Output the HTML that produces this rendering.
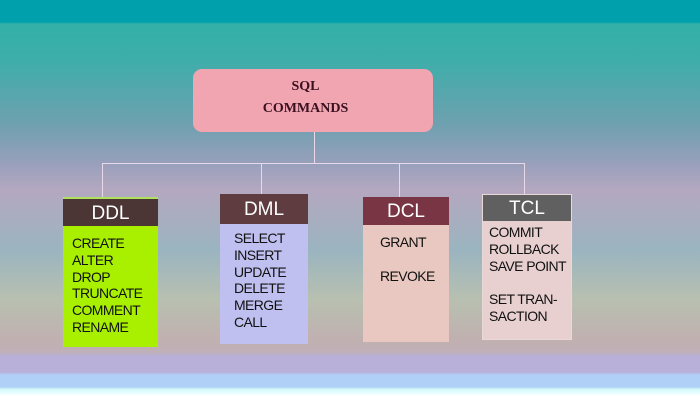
<!DOCTYPE html>
<html><head><style>
body{margin:0;width:700px;height:400px;overflow:hidden;position:relative;font-family:"Liberation Sans",Arial,sans-serif;
background:linear-gradient(to bottom,#01a0ad 0,#01a0ad 22px,#33b0a8 24px,#3eaeaa 60px,#6fa0b0 125px,#9aa0bc 165px,#b4a8c0 190px,#a8aec0 220px,#9ab4c0 250px,#b8c0b0 300px,#c0b0b0 340px,#c0b0b8 352px,#b8b0d8 356px,#b8b0d8 372px,#b0d0f8 375px,#b0d0f8 387px,#d0f8f8 389px,#e8fcfc 393px,#fff 396px);}
.a{position:absolute}
.root{left:193px;top:69px;width:240px;height:63px;background:#f0a5b0;border-radius:9px;font-family:"Liberation Serif",serif;color:#3a1020;font-size:14px;font-weight:bold;text-align:center}
.ln{position:absolute;background:#e8d8e8}
.box{position:absolute}
.hd{color:#fff;font-size:19px;text-align:center}
.bd{font-size:14px;line-height:16.8px;color:#111;letter-spacing:-0.6px}
</style></head><body>
<div class="a root"><div style="position:absolute;left:0;width:225px;top:10px">SQL</div><div style="position:absolute;left:0;width:225px;top:32px">COMMANDS</div></div>
<div class="ln" style="left:314px;top:132px;width:1px;height:31px"></div>
<div class="ln" style="left:102px;top:163px;width:422px;height:1px"></div>
<div class="ln" style="left:102px;top:163px;width:1px;height:36px"></div>
<div class="ln" style="left:261px;top:163px;width:1px;height:31px"></div>
<div class="ln" style="left:399px;top:163px;width:1px;height:35px"></div>
<div class="ln" style="left:524px;top:163px;width:1px;height:32px"></div>

<div class="box" style="left:63px;top:197px;width:95px;height:150px;background:#a8f000;border-top:2px solid #b0e060;box-sizing:border-box">
<div class="hd" style="background:#4b3535;height:27px;line-height:29px">DDL</div>
<div class="bd" style="padding:9px 0 0 9px">CREATE<br>ALTER<br>DROP<br>TRUNCATE<br>COMMENT<br>RENAME</div></div>

<div class="box" style="left:220px;top:194px;width:88px;height:150px;background:#c0c0f0">
<div class="hd" style="background:#5e3c40;height:30px;line-height:31px">DML</div>
<div class="bd" style="padding:6px 0 0 14px">SELECT<br>INSERT<br>UPDATE<br>DELETE<br>MERGE<br>CALL</div></div>

<div class="box" style="left:363px;top:197px;width:86px;height:145px;background:#e8c8c0">
<div class="hd" style="background:#7a3545;height:28px;line-height:29px">DCL</div>
<div class="bd" style="padding:9px 0 0 17px">GRANT<br><br>REVOKE</div></div>

<div class="box" style="left:482px;top:194px;width:90px;height:146px;background:#e8d0d0;border:1px solid #e8d8d8;box-sizing:border-box">
<div class="hd" style="background:#606060;height:26px;line-height:27px">TCL</div>
<div class="bd" style="padding:3px 0 0 6px">COMMIT<br>ROLLBACK<br>SAVE POINT<br><br>SET TRAN-<br>SACTION</div></div>
</body></html>
